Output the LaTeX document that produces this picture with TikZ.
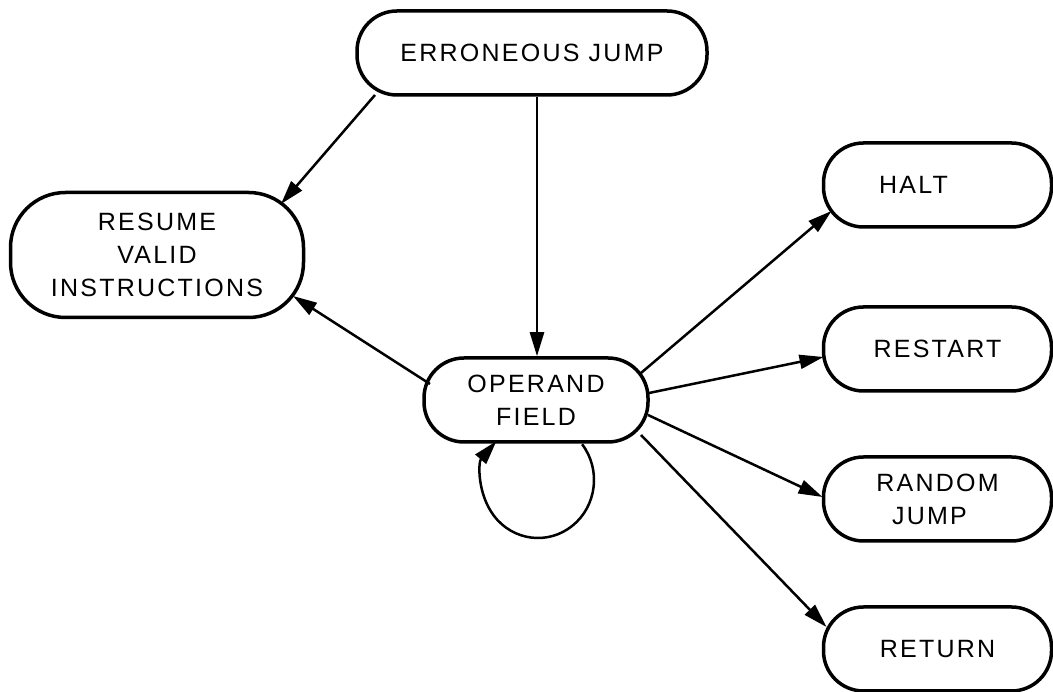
\documentclass[tikz,border=0pt]{standalone}
\usepackage{fontspec}
\setmainfont{Liberation Sans}[LetterSpace=9]
\usetikzlibrary{arrows.meta,calc}
\begin{document}
\begin{tikzpicture}[x=1pt,y=1pt,
  state/.style={draw, line width=3.5pt, rounded corners=40pt,
    minimum height=84pt, align=center, inner sep=0pt,
    font=\fontsize{25}{33}\selectfont},
  side/.style={state, minimum width=228pt},
  arr/.style={line width=2.5pt, -{Triangle[length=24pt,width=14pt]}}]
\useasboundingbox (0,0) rectangle (1053,692);

% states
\node[state, minimum width=350pt] (ej) at (532,639) {ERRONEOUS JUMP};
\node[state, minimum width=293pt, minimum height=125pt, rounded corners=55pt]
  (rvi) at (157,437) {RESUME\\VALID\\INSTRUCTIONS};
\node[state, minimum width=224pt] (op) at (536,292) {OPERAND\\FIELD};
\node[side] (halt)    at (937.5,507) {HALT\hspace*{48pt}};
\node[side] (restart) at (937.5,343) {RESTART};
\node[side] (random)  at (937.5,193) {RANDOM\\JUMP\hspace*{16pt}};
\node[side] (ret)     at (937.5,43)  {RETURN};

% transitions
\draw[arr] ($(ej)+(-157,-42)$) -- ($(rvi)+(124,51)$);
\draw[arr] ($(ej.south)+(5,0)$) -- ($(op.north)+(1,0)$);
\draw[arr] ($(op)+(-106,16)$) -- ($(rvi)+(136,-41)$);
\draw[arr] ($(op)+(105,27)$) -- ($(halt)+(-106,-26)$);
\draw[arr] ($(op)+(113,7)$) -- ($(restart)+(-114,-8)$);
\draw[arr] ($(op)+(112,-15)$) -- ($(random)+(-115,2)$);
\draw[arr] ($(op)+(105,-35)$) -- ($(ret)+(-111,22)$);

% self loop below the operand field
\draw[arr] ($(op)+(2,-80)$) ++(38:56 and 58)
  arc[start angle=38, end angle=-222, x radius=56, y radius=58];
\end{tikzpicture}
\end{document}
